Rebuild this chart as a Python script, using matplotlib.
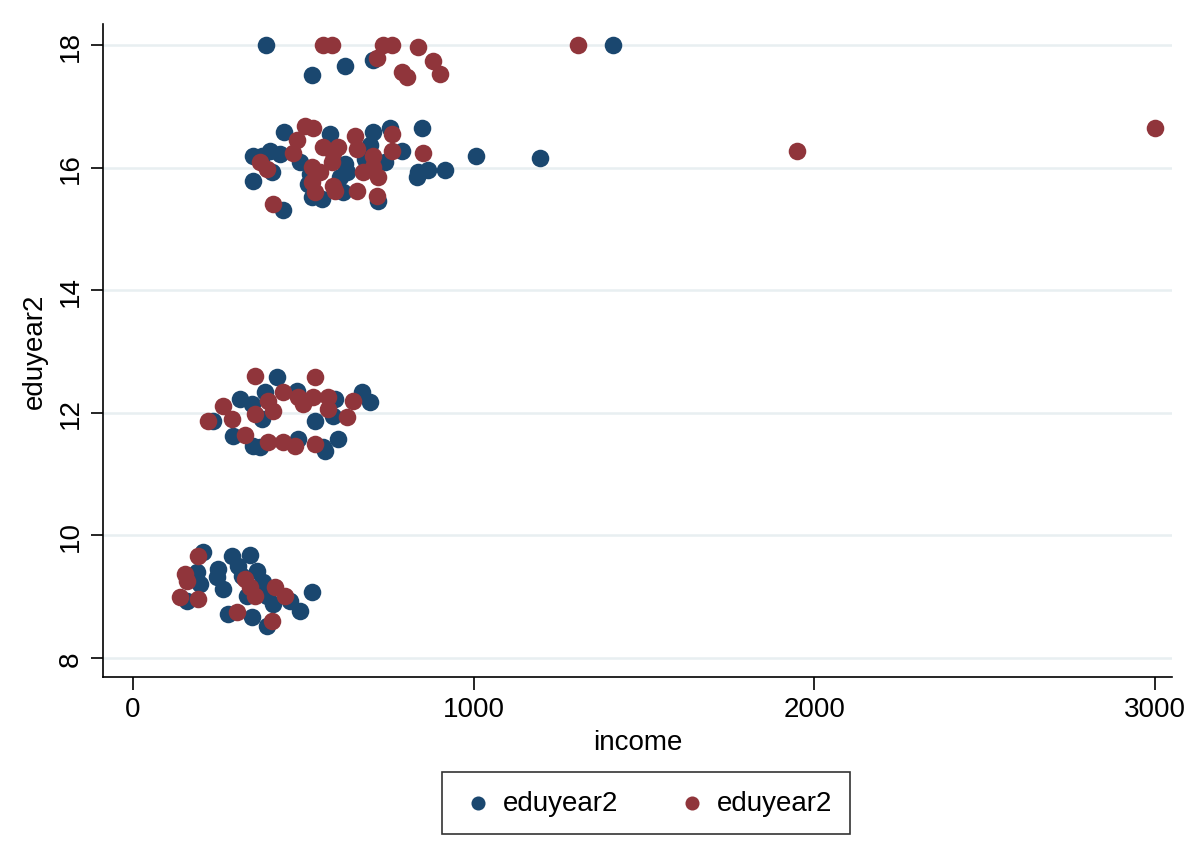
import numpy as np
import matplotlib
matplotlib.use("Agg")
import matplotlib.pyplot as plt

# ------------------------------------------------------------
# data (income, eduyear2)
# ------------------------------------------------------------
blue_income = [390, 1409, 704, 622, 525,
               443, 578, 352, 402, 431, 408, 352, 490, 520, 514, 525, 555, 616,
               628, 608, 704, 754, 696, 740, 790, 848, 837, 866, 834, 916, 719,
               440, 1007, 1195, 379, 622, 681,
               423, 314, 235, 349, 379, 387, 481, 593, 587, 672, 696, 534, 294,
               352, 373, 484, 558, 564, 602,
               205, 291, 343, 249, 188, 197, 247, 264, 308, 320, 364, 382, 335,
               393, 411, 461, 490, 525, 158, 279, 349, 393]
blue_edu = [18.0, 18.0, 17.76, 17.66, 17.51,
            16.58, 16.55, 16.19, 16.27, 16.22, 15.94, 15.78, 16.10, 15.90, 15.73,
            15.52, 15.49, 15.60, 15.93, 15.86, 16.58, 16.66, 16.38, 16.09, 16.27,
            16.65, 15.94, 15.97, 15.86, 15.96, 15.46, 15.32, 16.19, 16.16, 16.19,
            16.06, 16.14,
            12.58, 12.23, 11.87, 12.14, 11.90, 12.34, 12.36, 12.23, 11.95, 12.34,
            12.18, 11.87, 11.62, 11.46, 11.44, 11.57, 11.44, 11.38, 11.57,
            9.73, 9.66, 9.68, 9.45, 9.40, 9.21, 9.32, 9.13, 9.50, 9.34, 9.42,
            9.24, 9.01, 9.01, 8.88, 8.93, 8.77, 9.08, 8.93, 8.72, 8.67, 8.52]

red_income = [558, 584, 734, 760, 836, 716, 880, 901, 790, 804, 1306,
              505, 528, 481, 470, 373, 393, 525, 549, 525, 534, 587, 593, 558,
              587, 602, 584, 657, 652, 657, 760, 704, 675, 719, 704, 760, 851,
              716, 411, 1949, 3000,
              358, 534, 264, 291, 220, 358, 396, 411, 440, 484, 499, 528, 572,
              572, 628, 646, 329, 396, 440, 476, 534,
              191, 153, 158, 329, 343, 358, 417, 446, 138, 191, 305, 408]
red_edu = [18.0, 18.0, 18.0, 18.0, 17.97, 17.80, 17.75, 17.53, 17.56, 17.48, 18.0,
           16.69, 16.65, 16.45, 16.25, 16.09, 15.98, 16.01, 15.93, 15.77, 15.60,
           15.70, 15.62, 16.35, 16.25, 16.35, 16.10, 15.62, 16.52, 16.31, 16.56,
           16.19, 15.93, 15.85, 16.02, 16.27, 16.25, 15.54, 15.41, 16.27, 16.66,
           12.60, 12.58, 12.11, 11.90, 11.87, 11.98, 12.19, 12.03, 12.34, 12.26,
           12.14, 12.26, 12.26, 12.06, 11.93, 12.19, 11.64, 11.52, 11.52, 11.46,
           11.49,
           9.66, 9.37, 9.26, 9.29, 9.16, 9.01, 9.16, 9.01, 8.99, 8.96, 8.75, 8.60]

x_ticks = [0, 1000, 2000, 3000]
y_ticks = [8, 10, 12, 14, 16, 18]

NAVY = "#1a476f"
MAROON = "#90353b"

plt.rcParams["font.family"] = ["Liberation Sans", "DejaVu Sans"]

fig = plt.figure(figsize=(12, 8.62), dpi=100)
ax = fig.add_axes([103 / 1200, 1 - 678 / 862, (1172 - 103) / 1200, (678 - 25) / 862])

ax.scatter(blue_income, blue_edu, s=160, color=NAVY, linewidths=0,
           label="eduyear2", zorder=3)
ax.scatter(red_income, red_edu, s=160, color=MAROON, linewidths=0,
           label="eduyear2", zorder=4)

ax.set_xlim(-88, 3050)
ax.set_ylim(7.69, 18.35)
ax.set_xticks(x_ticks)
ax.set_yticks(y_ticks)
ax.set_yticklabels([str(v) for v in y_ticks], rotation=90, va="center")
ax.tick_params(axis="both", direction="out", length=9, width=1.2,
               labelsize=20, pad=5)

ax.grid(axis="y", color="#e8eff1", linewidth=1.8, zorder=0)
ax.set_axisbelow(True)

for side in ["top", "right"]:
    ax.spines[side].set_visible(False)
for side in ["left", "bottom"]:
    ax.spines[side].set_linewidth(1.2)

ax.set_xlabel("income", fontsize=20, labelpad=5)
ax.set_ylabel("eduyear2", fontsize=20, labelpad=7)

leg = fig.legend(loc="center", bbox_to_anchor=(646 / 1200, 1 - 804 / 862),
                 ncol=2, fontsize=20, frameon=True, fancybox=False,
                 markerscale=0.8, handletextpad=0.25, columnspacing=2.0,
                 handlelength=1.3, borderpad=0.65, edgecolor="black")
leg.get_frame().set_linewidth(1.2)

fig.savefig("out.png", dpi=100)
